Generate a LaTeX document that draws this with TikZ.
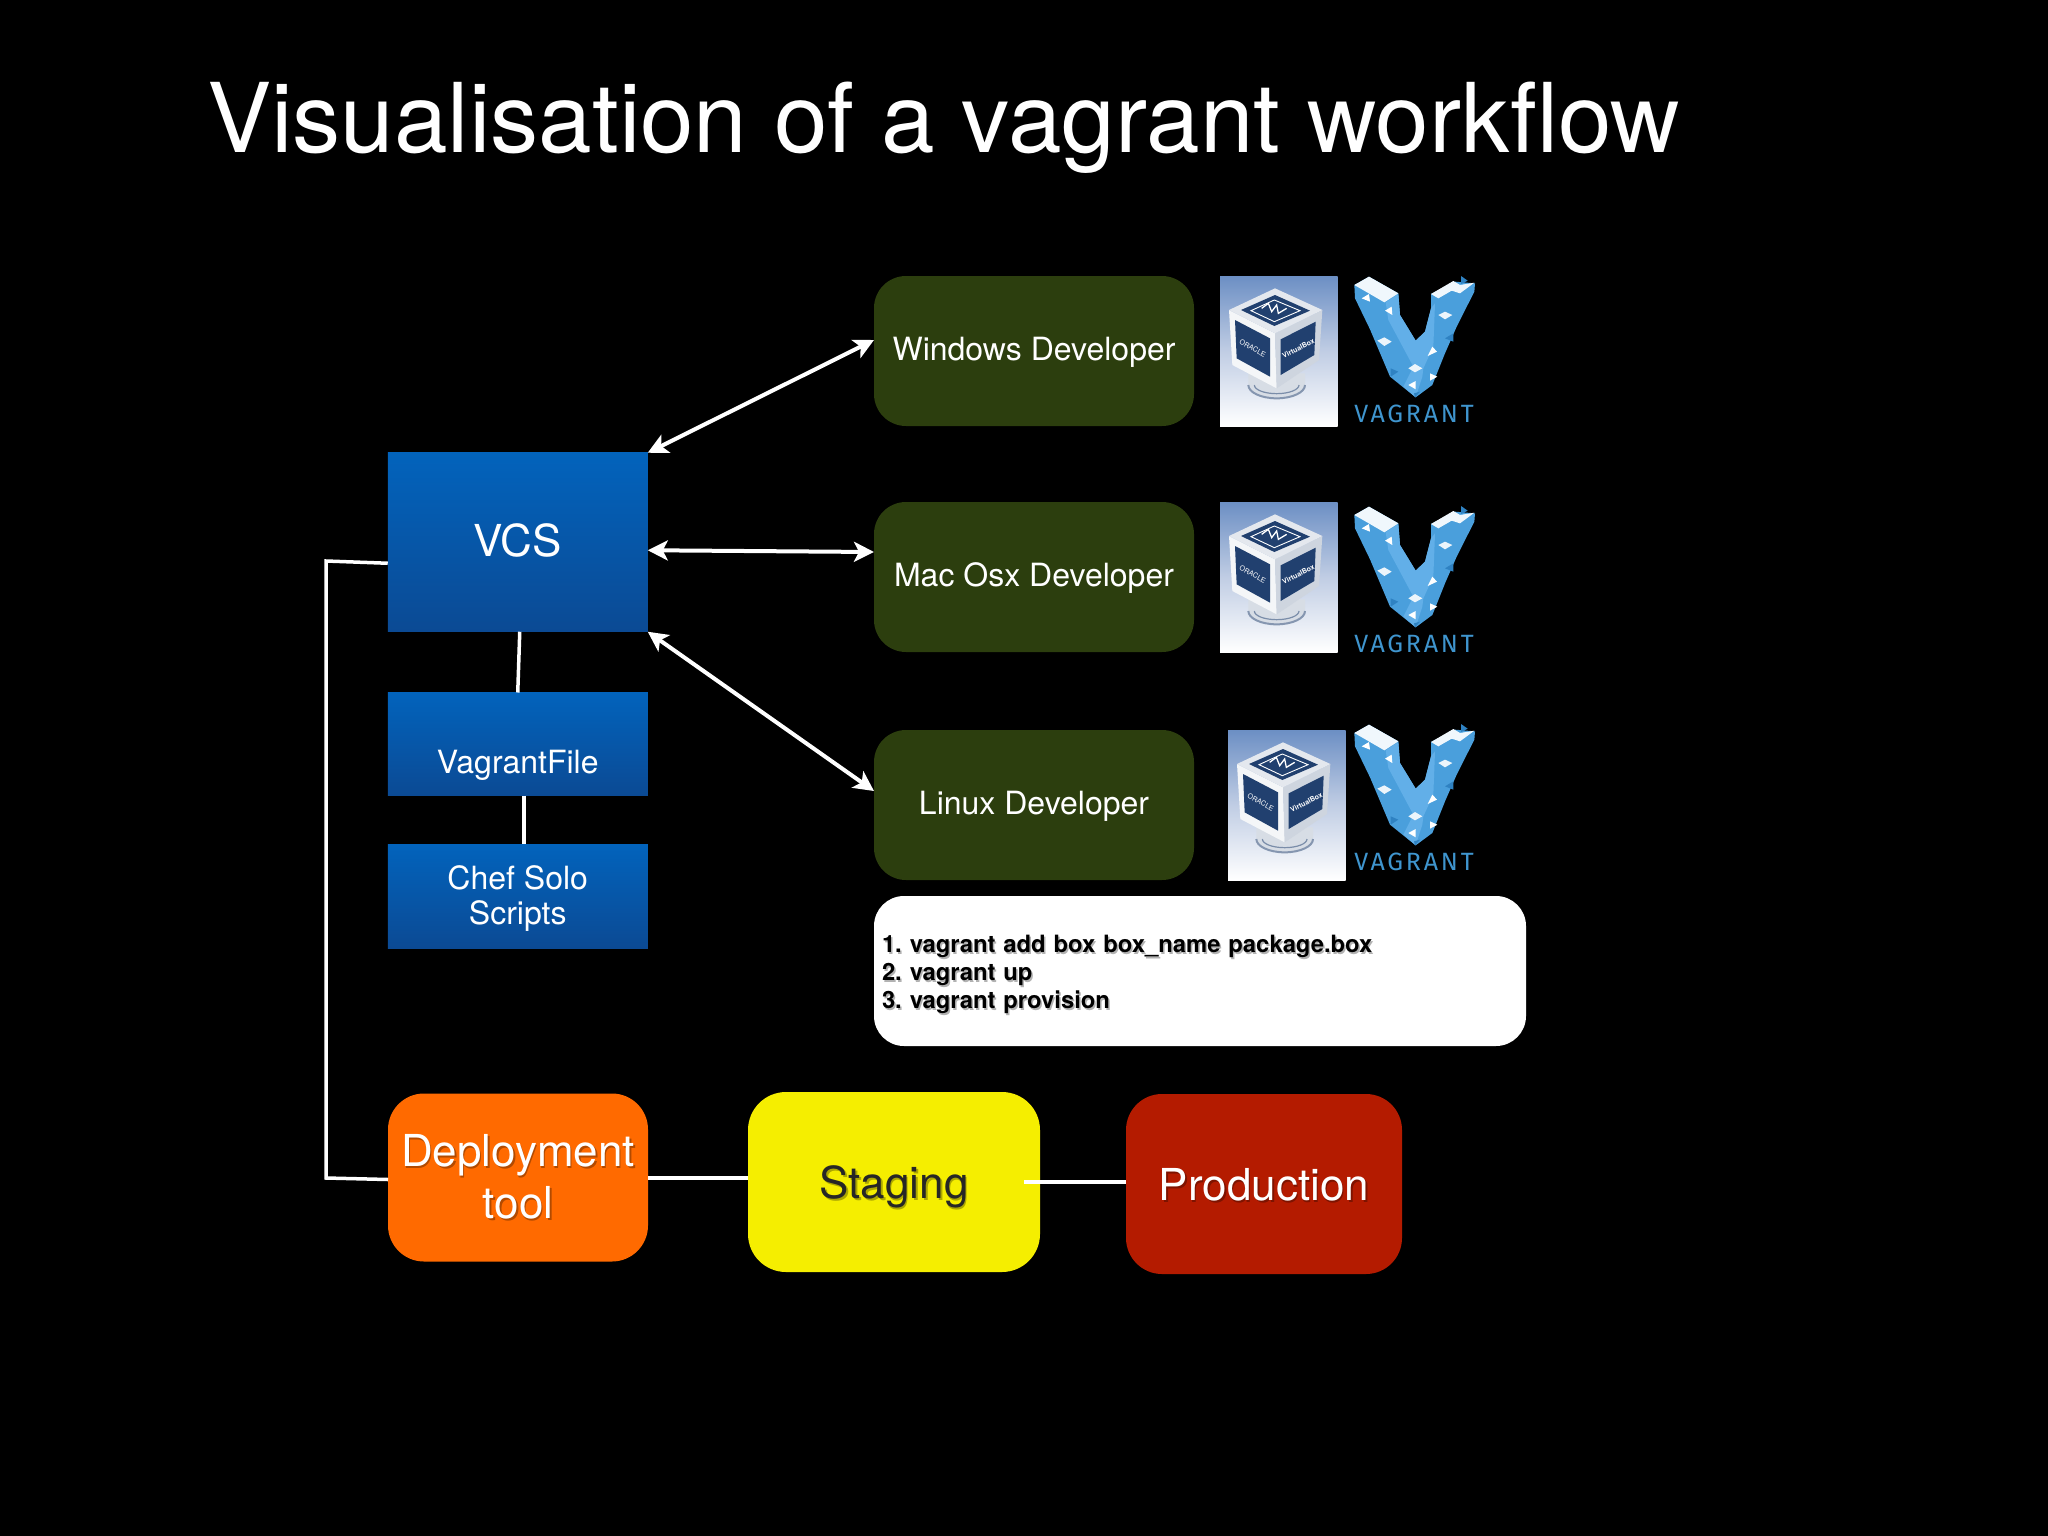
\documentclass[tikz,border=0pt]{standalone}
\usepackage{fontspec}
\setmainfont{TeX Gyre Heros}
\newfontfamily\vagfont[LetterSpace=11]{Fira Sans}
\usetikzlibrary{arrows.meta}
\frenchspacing
\definecolor{slidegreen}{HTML}{2C3E0E}
\definecolor{blueTop}{HTML}{0263BC}
\definecolor{blueBot}{HTML}{0B4A94}
\definecolor{orangeBox}{HTML}{FF6A00}
\definecolor{yellowBox}{HTML}{F5EE00}
\definecolor{redBox}{HTML}{B41B00}
\definecolor{vagBody}{HTML}{4A9FDC}
\definecolor{vagLight}{HTML}{62AFE8}
\definecolor{vagDark}{HTML}{2F82C2}
\definecolor{vagText}{HTML}{3F95CE}
\definecolor{vbDark}{HTML}{21406F}
\definecolor{vbTop}{HTML}{6C8FC4}
\definecolor{vbMid}{HTML}{C0CDE4}
\newcommand\fsz[2]{\fontsize{#1}{#2}\selectfont}
\newcommand\shd[2]{\leavevmode\rlap{\raisebox{-2pt}{\hspace{1.5pt}\textcolor{#1}{#2}}}#2}
\newcommand\nudge[2]{\raisebox{-#1}[\height][\depth]{#2}}
\tikzset{
  every node/.style={outer sep=0pt,inner sep=0pt},
  bluebox/.style={draw=none,top color=blueTop,bottom color=blueBot,text=white,align=center,minimum width=260pt},
  devbox/.style={draw=none,fill=slidegreen,rounded corners=32pt,text=white,align=center,minimum width=320pt,minimum height=150pt,font=\fsz{32}{38}},
  stagebox/.style={draw=none,rounded corners=36pt,align=center,font=\fsz{44}{52}},
  link/.style={draw=white,line width=3.5pt},
  twoway/.style={link,line width=4pt,{Stealth[length=20pt,width=20pt,inset=5pt]}-{Stealth[length=20pt,width=20pt,inset=5pt]}}
}
% VirtualBox picture; #1 = origin of a grid in which one unit is a third of a pixel
\newcommand\vblogo[1]{%
\begin{scope}[shift={(#1)},x=.33333pt,y=-.33333pt]
  \fill[top color=vbTop,bottom color=white,middle color=vbMid] (15,18) rectangle (368,468);
  \fill[white!82!vbDark] (100,345) arc[start angle=180,end angle=0,x radius=85,y radius=40] -- (270,310) -- (100,310) -- cycle;
  \draw[white!45!vbDark,line width=2pt] (100,345) arc[start angle=180,end angle=0,x radius=85,y radius=40];
  \draw[white!40!vbDark,line width=1.2pt] (118,345) arc[start angle=180,end angle=0,x radius=67,y radius=26];
  \fill[white!95!vbDark] (42,120) -- (180,190) -- (185,355) -- (52,285) -- cycle;
  \fill[white!78!vbDark] (180,190) -- (322,120) -- (312,270) -- (185,355) -- cycle;
  \fill[white!88!vbDark] (180,55) -- (42,120) -- (180,190) -- (322,120) -- cycle;
  \fill[vbDark] (180,75) -- (78,120) -- (178,168) -- (285,122) -- cycle;
  \fill[vbDark] (60,150) -- (165,205) -- (165,320) -- (65,265) -- cycle;
  \fill[vbDark] (197,208) -- (302,155) -- (298,255) -- (197,315) -- cycle;
  \draw[white,line width=.9pt] (178,90) -- (108,122) -- (178,155) -- (255,122) -- cycle;
  \draw[white,line width=1.3pt] (140,115) -- (160,100) -- (170,125) -- (185,105) -- (190,130) -- (215,115);
  \node[white,rotate=-28,font=\fsz{7}{8}] at (113,235) {ORACLE};
  \node[white,rotate=27,font=\bfseries\fsz{7}{8}] at (250,235) {VirtualBox};
\end{scope}}
% Vagrant logo; #1 = origin of a grid in which one unit is a third of a pixel
\newcommand\vaglogo[1]{%
\begin{scope}[shift={(#1)},x=.33333pt,y=-.33333pt]
  \fill[vagBody] (28,45) -- (30,85) -- (75,178) -- (135,320) -- (212,382) -- (262,345) -- (300,250) -- (335,170) -- (388,65) -- (390,40) -- (330,35) -- (258,72) -- (258,115) -- (240,185) -- (212,212) -- (165,135) -- (160,70) -- (72,20) -- cycle;
  \fill[vagLight] (122,97) -- (160,72) -- (165,135) -- (212,212) -- (240,185) -- (258,115) -- (270,100) -- (265,230) -- (235,295) -- (232,320) -- (212,382) -- (175,350) -- (205,290) -- (130,150) -- cycle;
  \fill[white!92!vagBody] (28,45) -- (72,20) -- (160,70) -- (118,97) -- cycle;
  \fill[white!92!vagBody] (258,72) -- (325,33) -- (345,45) -- (388,38) -- (345,70) -- (320,62) -- (280,85) -- cycle;
  \fill[vagDark] (348,18) -- (368,32) -- (348,42) -- cycle;
  \fill[white] (50,85) -- (72,72) -- (75,95) -- cycle;
  \fill[white] (120,122) -- (140,110) -- (142,135) -- cycle;
  \fill[white!90!vagBody] (97,212) -- (118,202) -- (140,215) -- (118,228) -- cycle;
  \fill[white!90!vagBody] (280,135) -- (300,125) -- (322,135) -- (300,148) -- cycle;
  \fill[white] (248,258) -- (262,230) -- (276,245) -- cycle;
  \fill[white!90!vagBody] (190,295) -- (210,282) -- (232,295) -- (210,307) -- cycle;
  \fill[white] (255,310) -- (277,320) -- (255,332) -- cycle;
  \fill[white] (190,345) -- (212,333) -- (212,358) -- cycle;
  \fill[vagDark] (300,205) -- (325,190) -- (325,215) -- cycle;
  \fill[vagDark] (137,295) -- (160,305) -- (137,320) -- cycle;
  \fill[vagDark] (207,370) -- (225,365) -- (210,382) -- cycle;
  \node[text=vagText,font=\vagfont\fsz{25}{28}] at (207,432) {VAGRANT};
\end{scope}}
\begin{document}
\begin{tikzpicture}[x=1pt,y=-1pt]
  \useasboundingbox (0,0) rectangle (2048,1536);
  \fill[black] (0,0) rectangle (2048,1536);
  \node[anchor=base west,text=white,font=\fsz{96.3}{110}] (title) at (207,153) {Visualisation of a vagrant workflow};

  \node[bluebox,minimum height=179pt,font=\fsz{44}{52}] (vcs) at (517.75,542.25) {\nudge{-1.3pt}{VCS}};
  \node[bluebox,minimum height=103pt,font=\fsz{32}{38}] (vfile) at (517.75,744) {\raisebox{-29pt}[0pt][0pt]{VagrantFile}};
  \node[bluebox,minimum height=104pt,font=\fsz{32}{35.5}] (chef) at (517.75,896) {\nudge{2.5pt}{Chef Solo}\\\nudge{2.5pt}{Scripts}};

  \node[devbox] (win) at (1034,351) {\nudge{1.3pt}{Windows Developer}};
  \node[devbox] (mac) at (1034,577) {\nudge{1.3pt}{Mac Osx Developer}};
  \node[devbox] (lin) at (1034,805) {\nudge{1.3pt}{Linux Developer}};

  \node[draw=none,fill=white,rounded corners=30pt,minimum width=652pt,minimum height=150pt,text width=636pt,inner sep=8pt,align=left,text=black,font=\bfseries\fsz{23.8}{28}] (cmds) at (1200,971) {\nudge{4pt}{\shd{black!30}{1. vagrant add box box\_name package.box}}\\\nudge{4pt}{\shd{black!30}{2. vagrant up}}\\\nudge{4pt}{\shd{black!30}{3. vagrant provision}}};

  \node[stagebox,fill=orangeBox,text=white,minimum width=260pt,minimum height=168pt] (dep) at (518,1177.5) {\shd{orangeBox!70!black}{Deployment}\\\shd{orangeBox!70!black}{tool}};
  \node[stagebox,fill=yellowBox,text=black!85,minimum width=292pt,minimum height=180pt,rounded corners=38pt] (stg) at (894,1182) {\nudge{6pt}{\shd{yellowBox!70!black}{Staging}}};
  \node[stagebox,fill=redBox,text=white,minimum width=276pt,minimum height=180pt] (prod) at (1264,1184) {\nudge{1.5pt}{\shd{redBox!70!black}{Production}}};

  \vblogo{1215,270}
  \vblogo{1215,496}
  \vblogo{1223,724}
  \vaglogo{1345,270}
  \vaglogo{1345,500}
  \vaglogo{1345,718}

  \coordinate (elbowTop) at (326,561);
  \coordinate (elbowBot) at (326,1178);
  \draw[twoway] (vcs.north east) -- ([yshift=11pt]win.west);
  \draw[twoway] ([yshift=-8pt]vcs.east) -- ([yshift=25pt]mac.west);
  \draw[twoway] (vcs.south east) -- ([yshift=14pt]lin.west);
  \draw[link] ([xshift=2pt]vcs.south) -- (vfile.north);
  \draw[link,line width=4pt] ([xshift=6pt]vfile.south) -- ([xshift=6pt]chef.north);
  \draw[link,line width=3.5pt] ([yshift=-21pt]vcs.west) -- (elbowTop) -- (elbowBot) -- ([yshift=-2pt]dep.west);
  \draw[link,line width=4pt] (dep.east) -- (stg.west |- dep.east);
  \draw[link,line width=4pt] ([xshift=-16pt]stg.east) -- (prod.west |- stg.east);
\end{tikzpicture}
\end{document}
